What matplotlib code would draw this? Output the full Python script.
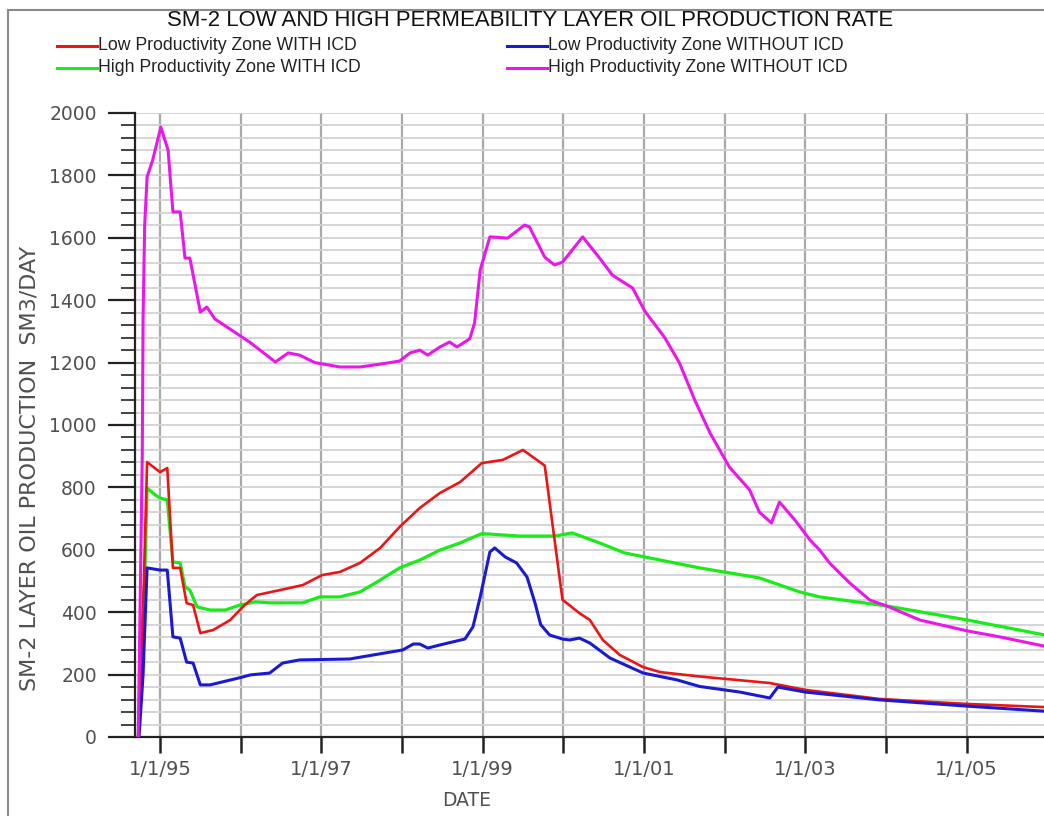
import matplotlib
matplotlib.use('Agg')
import matplotlib.pyplot as plt
from matplotlib import font_manager
from matplotlib.lines import Line2D
from matplotlib.ticker import MultipleLocator, FixedLocator

# ---------------- data (decimal years, SM3/DAY) ----------------
title = "SM-2 LOW AND HIGH PERMEABILITY LAYER OIL PRODUCTION RATE"
ylabel = "SM-2 LAYER OIL PRODUCTION  SM3/DAY"
xlabel = "DATE"
series_names = ["Low Productivity Zone WITH ICD", "Low Productivity Zone WITHOUT ICD",
                "High Productivity Zone WITH ICD", "High Productivity Zone WITHOUT ICD"]

low_icd_t = [1994.73, 1994.80, 1994.84, 1995.00, 1995.09, 1995.16, 1995.25, 1995.33, 1995.41,
             1995.50, 1995.66, 1995.87, 1996.05, 1996.20, 1996.49, 1996.77, 1997.01, 1997.23,
             1997.48, 1997.73, 1997.97, 1998.22, 1998.47, 1998.72, 1998.99, 1999.25, 1999.50,
             1999.77, 1999.99, 2000.20, 2000.33, 2000.49, 2000.70, 2000.99, 2001.20, 2001.69,
             2002.56, 2003.00, 2003.92, 2005.00, 2005.95]
low_icd_v = [0, 500, 881, 849, 862, 542, 542, 429, 423,
             333, 343, 375, 423, 455, 471, 487, 519, 529,
             558, 606, 673, 734, 782, 817, 878, 888, 920,
             870, 440, 397, 375, 311, 263, 224, 208, 194,
             173, 151, 122, 106, 96]

low_noicd_t = [1994.74, 1994.79, 1994.84, 1995.00, 1995.09, 1995.16, 1995.25, 1995.33, 1995.41,
               1995.50, 1995.62, 1995.99, 1996.12, 1996.36, 1996.52, 1996.73, 1997.35, 1998.01,
               1998.14, 1998.22, 1998.32, 1998.47, 1998.78, 1998.88, 1998.97, 1999.09, 1999.15,
               1999.28, 1999.42, 1999.55, 1999.65, 1999.72, 1999.83, 1999.99, 2000.08, 2000.20,
               2000.33, 2000.58, 2000.99, 2001.41, 2001.69, 2002.19, 2002.56, 2002.66, 2003.00,
               2003.92, 2005.00, 2005.95]
low_noicd_v = [0, 200, 542, 535, 535, 321, 317, 240, 237,
               167, 167, 190, 199, 205, 237, 247, 250, 279,
               298, 298, 285, 295, 314, 353, 449, 593, 606,
               577, 558, 513, 429, 360, 327, 314, 311, 317,
               301, 253, 205, 183, 162, 144, 125, 160, 144,
               119, 99, 83]

high_icd_t = [1994.73, 1994.81, 1994.84, 1994.94, 1995.00, 1995.09, 1995.16, 1995.25, 1995.31,
              1995.37, 1995.46, 1995.62, 1995.81, 1995.99, 1996.18, 1996.36, 1996.77, 1996.98,
              1997.23, 1997.48, 1997.73, 1997.97, 1998.22, 1998.47, 1998.72, 1998.99, 1999.46,
              1999.89, 2000.11, 2000.45, 2000.76, 2001.07, 2001.69, 2002.43, 2002.93, 2003.18,
              2004.01, 2005.01, 2005.95]
high_icd_v = [0, 500, 798, 776, 766, 760, 561, 558, 481,
              471, 417, 407, 407, 423, 433, 430, 430, 449,
              449, 465, 503, 542, 567, 599, 622, 652, 644,
              644, 654, 622, 590, 574, 542, 510, 465, 449,
              420, 375, 328]

high_noicd_t = [1994.73, 1994.78, 1994.79, 1994.81, 1994.84, 1994.91, 1995.01, 1995.10, 1995.16,
                1995.25, 1995.31, 1995.37, 1995.50, 1995.58, 1995.68, 1996.12, 1996.43, 1996.59,
                1996.73, 1996.92, 1997.23, 1997.48, 1997.73, 1997.97, 1998.10, 1998.22, 1998.32,
                1998.47, 1998.59, 1998.68, 1998.84, 1998.90, 1998.97, 1999.09, 1999.31, 1999.52,
                1999.58, 1999.77, 1999.89, 1999.99, 2000.24, 2000.45, 2000.61, 2000.86, 2001.01,
                2001.20, 2001.26, 2001.44, 2001.63, 2001.82, 2002.06, 2002.31, 2002.43, 2002.58,
                2002.68, 2002.87, 2003.06, 2003.18, 2003.30, 2003.55, 2003.80, 2004.01, 2004.42,
                2005.01, 2005.41, 2005.95]
high_noicd_v = [0, 900, 1343, 1640, 1795, 1850, 1955, 1881, 1683,
                1683, 1535, 1535, 1362, 1378, 1340, 1264, 1202, 1231,
                1224, 1200, 1186, 1186, 1195, 1205, 1231, 1240, 1224,
                1250, 1266, 1250, 1276, 1327, 1497, 1603, 1599, 1641,
                1635, 1538, 1513, 1522, 1603, 1535, 1480, 1439, 1365,
                1300, 1279, 1199, 1080, 974, 865, 792, 721, 686,
                753, 696, 631, 599, 558, 494, 439, 420, 375,
                340, 321, 292]

tick_years = list(range(1995, 2006))
tick_labels = [f"1/1/{y % 100:02d}" if y % 2 == 1 else "" for y in tick_years]

# ---------------- styling ----------------
W, H = 1044, 816
C_RED, C_BLUE, C_GREEN, C_MAG = '#ec1515', '#1a1ad0', '#18ec18', '#ea16ea'


def has_font(name):
    try:
        font_manager.findfont(font_manager.FontProperties(family=name), fallback_to_default=False)
        return True
    except Exception:
        return False


NARROW = 'Liberation Sans Narrow' if has_font('Liberation Sans Narrow') else 'Liberation Sans'
TICKFONT = 'DejaVu Sans'

fig = plt.figure(figsize=(W / 100, H / 100), dpi=100)
ax = fig.add_axes([135 / W, (H - 737) / H, (W - 135) / W, (737 - 113) / H])

ax.plot(high_icd_t, high_icd_v, color=C_GREEN, lw=2.3, zorder=3)
ax.plot(low_icd_t, low_icd_v, color=C_RED, lw=1.9, zorder=4)
ax.plot(low_noicd_t, low_noicd_v, color=C_BLUE, lw=2.2, zorder=5)
ax.plot(high_noicd_t, high_noicd_v, color=C_MAG, lw=2.2, zorder=6)

ax.set_xlim(1994.69, 2005.96)
ax.set_ylim(0, 2000)

ax.set_yticks(range(0, 2001, 200))
ax.yaxis.set_minor_locator(MultipleLocator(40))
ax.xaxis.set_major_locator(FixedLocator(tick_years))
ax.set_xticklabels(tick_labels)

ax.set_axisbelow(True)
ax.grid(axis='y', which='both', color='#d2d2d2', lw=1.3)
ax.grid(axis='x', which='major', color='#a9a9a9', lw=1.6)

ax.tick_params(axis='y', which='major', length=19.5, width=1.6, color='#222', pad=8,
               labelsize=13.5, labelcolor='#505050')
ax.tick_params(axis='y', which='minor', length=10, width=1.3, color='#333')
ax.tick_params(axis='x', which='major', length=11.5, width=1.8, color='#222', pad=5,
               labelsize=14, labelcolor='#505050')
for lab in ax.get_xticklabels() + ax.get_yticklabels():
    lab.set_family(TICKFONT)

for s in ['top', 'right']:
    ax.spines[s].set_visible(False)
for s in ['left', 'bottom']:
    ax.spines[s].set_color('#222')
    ax.spines[s].set_linewidth(1.6)

# outer frame
fig.add_artist(Line2D([8 / W, 8 / W], [0, 1 - 10 / H], transform=fig.transFigure, color='#8a8a8a', lw=1.5))
fig.add_artist(Line2D([8 / W, 1], [1 - 10 / H, 1 - 10 / H], transform=fig.transFigure, color='#8a8a8a', lw=1.5))

renderer = fig.canvas.get_renderer()


def fit_width(t, target_px, size0):
    t.set_fontsize(size0)
    w = t.get_window_extent(renderer).width
    t.set_fontsize(size0 * target_px / w)
    return t.get_fontsize()


tt = fig.text(530 / W, 1 - 20 / H, title, ha='center', va='center', family=NARROW, color='#111')
fit_width(tt, 728, 15)

# legend (manual, figure pixel coords)
legend_items = [(series_names[0], C_RED, 57, 46), (series_names[1], C_BLUE, 507, 46),
                (series_names[2], C_GREEN, 57, 68), (series_names[3], C_MAG, 507, 68)]
lsize = None
for name, col, x0, y0 in legend_items:
    fig.add_artist(Line2D([x0 / W, (x0 + 40) / W], [1 - y0 / H, 1 - y0 / H],
                          transform=fig.transFigure, color=col, lw=2.2))
    t = fig.text((x0 + 41) / W, 1 - y0 / H, name, ha='left', va='center', family=NARROW, color='#222')
    if lsize is None:
        lsize = fit_width(t, 258, 11)
    else:
        t.set_fontsize(lsize)

yl = fig.text(30 / W, 1 - 468 / H, ylabel, rotation=90, ha='center', va='center',
              family=TICKFONT, color='#505050')
yl.set_fontsize(12)
w = yl.get_window_extent(renderer).height
yl.set_fontsize(12 * 445 / w)

fig.text(467 / W, 1 - 800 / H, xlabel, ha='center', va='center', family=TICKFONT,
         color='#505050', fontsize=13.5)

fig.savefig('out.png', dpi=100)
